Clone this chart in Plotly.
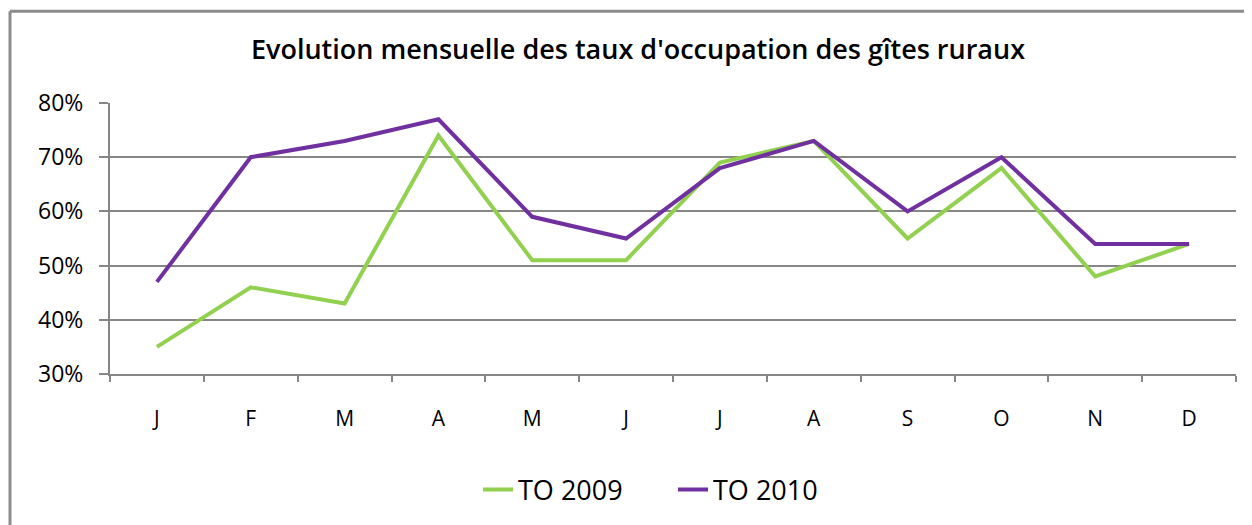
import plotly.graph_objects as go

months = ["J", "F", "M", "A", "M", "J", "J", "A", "S", "O", "N", "D"]
to_2009 = [0.35, 0.46, 0.43, 0.74, 0.51, 0.51, 0.69, 0.73, 0.55, 0.68, 0.48, 0.54]
to_2010 = [0.47, 0.70, 0.73, 0.77, 0.59, 0.55, 0.68, 0.73, 0.60, 0.70, 0.54, 0.54]
y_ticks = [0.3, 0.4, 0.5, 0.6, 0.7, 0.8]

# unique category keys (month letters repeat), labelled with ticktext
x = [str(i) for i in range(len(months))]

fig = go.Figure()
fig.add_trace(go.Scatter(x=x, y=to_2009, mode="lines", name="TO 2009",
                         line=dict(color="#92D050", width=4)))
fig.add_trace(go.Scatter(x=x, y=to_2010, mode="lines", name="TO 2010",
                         line=dict(color="#7030A0", width=4)))

FONT = "Open Sans"
W, H = 1244, 517
L, T, R, B = 102, 95, 16, 150
PW, PH = W - L - R, H - T - B

fig.update_layout(
    width=W, height=H,
    margin=dict(l=L, r=R, t=T, b=B),
    paper_bgcolor="white", plot_bgcolor="white",
    title=dict(text="Evolution mensuelle des taux d'occupation des gîtes ruraux",
               x=(638 - 8) / W, xanchor="center", y=1 - 42 / H, yanchor="middle",
               font=dict(family=FONT, size=27, color="black", weight=600)),
    showlegend=True,
    legend=dict(orientation="h", x=(673 - 8 - L) / PW, xanchor="center",
                y=(T + PH - 482) / PH, yanchor="middle",
                font=dict(family=FONT, size=27, color="black"),
                entrywidth=150, entrywidthmode="pixels"),
    font=dict(family=FONT, color="black"),
)
fig.update_xaxes(
    type="category", tickmode="array", tickvals=x, ticktext=months,
    range=[-0.5, len(months) - 0.5],
    showline=True, linecolor="#868686", linewidth=2,
    ticks="outside", ticklen=6, tickcolor="#868686", tickwidth=2,
    tickson="boundaries", showgrid=False, ticklabelstandoff=25,
    tickfont=dict(family=FONT, size=21, color="black"), zeroline=False,
)
fig.update_yaxes(
    range=[0.3, 0.8], tickvals=y_ticks, tickformat=".0%",
    showline=True, linecolor="#868686", linewidth=2,
    ticks="outside", ticklen=9, tickcolor="#868686", tickwidth=2,
    showgrid=True, gridcolor="#868686", gridwidth=2, zeroline=False,
    ticklabelstandoff=11,
    tickfont=dict(family=FONT, size=23, color="black"),
)
# outer chart border (top and left edges visible)
bx = (2 - L) / PW
by = (T + PH - 3) / PH
fig.add_shape(type="line", xref="paper", yref="paper",
              x0=bx, x1=(W + 10 - L) / PW, y0=by, y1=by,
              line=dict(color="#8C8C8C", width=3))
fig.add_shape(type="line", xref="paper", yref="paper",
              x0=bx, x1=bx, y0=by, y1=(T + PH - H - 10) / PH,
              line=dict(color="#8C8C8C", width=3))

fig.write_html("out.html")
